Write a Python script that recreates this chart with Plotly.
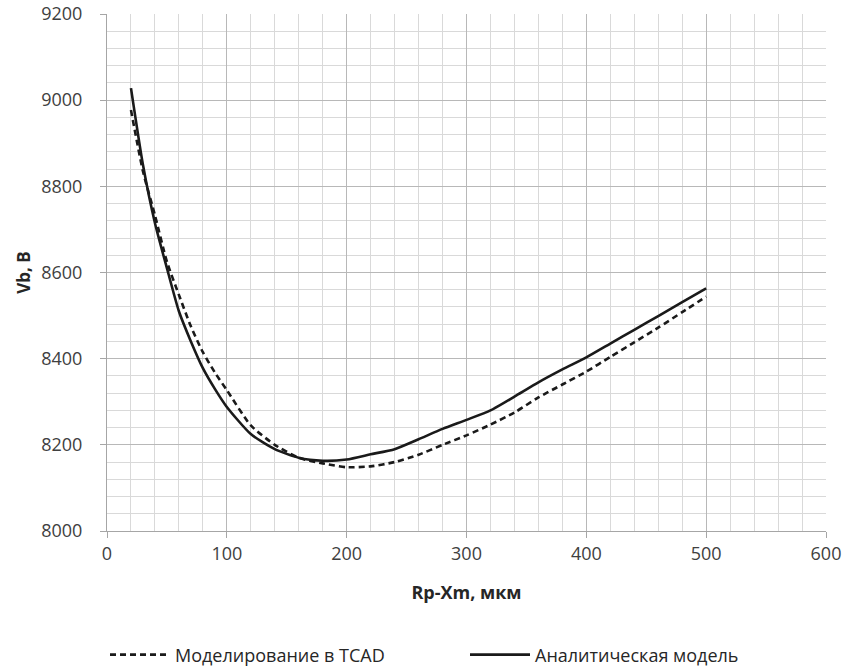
import plotly.graph_objects as go

x_vals = [20, 30, 40, 50, 60, 70, 80, 90, 100, 120, 140, 160, 180, 200, 220, 240,
          260, 280, 300, 320, 340, 360, 380, 400, 420, 440, 460, 480, 500]
tcad = [8977, 8835, 8733, 8625, 8548, 8475, 8415, 8368, 8327, 8245, 8200, 8170, 8157,
        8148, 8150, 8160, 8177, 8200, 8222, 8247, 8275, 8310, 8340, 8370, 8404, 8438,
        8472, 8508, 8544]
analytic = [9028, 8850, 8715, 8610, 8510, 8440, 8378, 8330, 8288, 8225, 8190, 8170, 8163,
            8166, 8178, 8190, 8213, 8237, 8258, 8280, 8312, 8345, 8375, 8403, 8435, 8467,
            8499, 8531, 8563]

names = ["Моделирование в TCAD", "Аналитическая модель"]
x_title = "Rp-Xm, мкм"
y_title = "Vb, B"

FONT = "Open Sans, Liberation Sans, sans-serif"
fig = go.Figure()
fig.add_trace(go.Scatter(x=x_vals, y=tcad, mode="lines", name=names[0],
                         line=dict(color="#1a1a1a", width=2.6, dash="6px,4px", shape="spline", smoothing=0.6)))
fig.add_trace(go.Scatter(x=x_vals, y=analytic, mode="lines", name=names[1],
                         line=dict(color="#1a1a1a", width=2.6, shape="spline", smoothing=0.6)))

fig.update_layout(
    width=845, height=671,
    margin=dict(l=107, r=19, t=14, b=140),
    paper_bgcolor="white", plot_bgcolor="white",
    font=dict(family=FONT, size=18, color="#404040"),
    showlegend=True,
    legend=dict(orientation="h", x=105 / 845, xref="container", y=0.024, yref="container",
                xanchor="left", yanchor="middle",
                font=dict(size=18, color="#262626"), itemwidth=60, entrywidth=285, tracegroupgap=0),
    xaxis=dict(range=[0, 600], dtick=100, tick0=0, showgrid=True, gridcolor="#b8b8b8", gridwidth=1,
               minor=dict(dtick=20, showgrid=True, gridcolor="#d9d9d9", gridwidth=1),
               showline=True, linecolor="#a6a6a6", linewidth=1, automargin=False,
               ticks="outside", ticklen=6, tickcolor="#a6a6a6", zeroline=False,
               title=dict(text="<b>" + x_title + "</b>", font=dict(size=18, color="#262626"), standoff=22),
               tickfont=dict(size=18, color="#404040")),
    yaxis=dict(range=[8000, 9200], dtick=200, tick0=8000, showgrid=True, gridcolor="#b8b8b8", gridwidth=1,
               minor=dict(dtick=40, showgrid=True, gridcolor="#d9d9d9", gridwidth=1),
               showline=True, linecolor="#a6a6a6", linewidth=1, automargin=False,
               ticks="outside", ticklen=6, tickcolor="#a6a6a6", zeroline=False,
               title=dict(text="<b>" + y_title + "</b>", font=dict(size=17, color="#262626"), standoff=6),
               tickfont=dict(size=18, color="#404040"), ticklabelstandoff=14),
)

fig.write_html("out.html")
